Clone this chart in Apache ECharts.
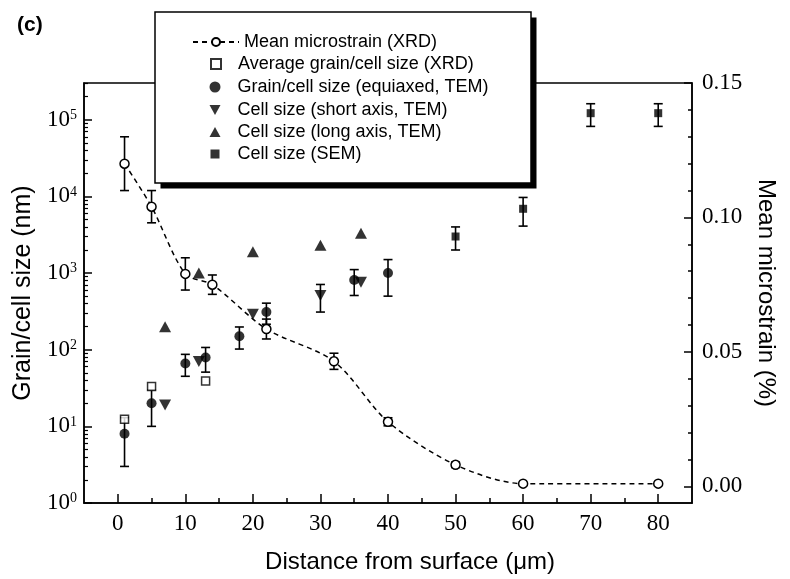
<!DOCTYPE html>
<html><head><meta charset="utf-8">
<script src="https://cdn.jsdelivr.net/npm/echarts@6.0.0/dist/echarts.min.js"></script>
<style>html,body{margin:0;padding:0;background:#fff}#c{width:790px;height:579px}</style>
</head><body><div id="c"></div><script>
// ---- data ----
const msX   = [1, 5, 10, 14, 22, 32, 40, 50, 60, 80];
const msVal = [0.120, 0.104, 0.079, 0.075, 0.0585, 0.0465, 0.024, 0.008, 0.001, 0.001];
const msErr = [0.010, 0.006, 0.006, 0.0036, 0.0037, 0.003, 0.0015, 0.001, 0, 0];

const gsX   = [1, 5, 13];
const gsVal = [12.4, 33, 39];

const eqX   = [1, 5, 10, 13, 18, 22, 35, 40];
const eqVal = [8, 20, 66, 79, 150, 310, 810, 1000];
const eqErr = [5, 10, 21, 28, 48, 95, 300, 500];

const saX   = [7, 12, 20, 30, 36];
const saVal = [19, 70, 290, 510, 760];
const saErr = [0, 0, 0, 200, 0];

const laX   = [7, 12, 20, 30, 36];
const laVal = [200, 1000, 1900, 2300, 3300];

const semX   = [50, 60, 70, 80];
const semVal = [3000, 6900, 122000, 122000];
const semErr = [1000, 2800, 40000, 40000];

const xTickVals      = [0, 10, 20, 30, 40, 50, 60, 70, 80];
const xMinorVals     = [5, 15, 25, 35, 45, 55, 65, 75];
const rightTickVals  = [0, 0.05, 0.10, 0.15];
const rightMinorVals = [0.01, 0.02, 0.03, 0.04, 0.06, 0.07, 0.08, 0.09, 0.11, 0.12, 0.13, 0.14];
const logDecades     = [0, 1, 2, 3, 4, 5];

const names = ['Mean microstrain (XRD)', 'Average grain/cell size (XRD)', 'Grain/cell size (equiaxed, TEM)',
               'Cell size (short axis, TEM)', 'Cell size (long axis, TEM)', 'Cell size (SEM)'];

// ---- helpers ----
const logMax = 5.48;
const logMinorVals = [];
logDecades.forEach(d => { for (let k = 2; k <= 9; k++) { const v = d + Math.log10(k); if (v < logMax) logMinorVals.push(v); } });

const pts = (xs, ys) => xs.map((x, i) => [x, ys[i]]);
const errPts = (xs, ys, es) => xs.map((x, i) => [x, ys[i] - es[i], ys[i] + es[i]]).filter((p, i) => es[i] > 0);

function errRender(params, api) {
  const x = api.value(0), lo = api.value(1), hi = api.value(2);
  const a = api.coord([x, lo]), b = api.coord([x, hi]);
  const w = 4.5;
  const st = { stroke: '#000', lineWidth: 1.6 };
  return { type: 'group', children: [
    { type: 'line', shape: { x1: a[0], y1: a[1], x2: b[0], y2: b[1] }, style: st },
    { type: 'line', shape: { x1: a[0] - w, y1: a[1], x2: a[0] + w, y2: a[1] }, style: st },
    { type: 'line', shape: { x1: b[0] - w, y1: b[1], x2: b[0] + w, y2: b[1] }, style: st }
  ]};
}

const serif = 'Liberation Serif', sans = 'Liberation Sans';
const black = '#000';
const triDown = 'path://M0,0 L10,0 L5,9 Z';
const triUp = 'path://M5,0 L10,9 L0,9 Z';

const chart = echarts.init(document.getElementById('c'), null, { renderer: 'canvas' });

function legendAt(name, left, top, iw, ih, pad) {
  return { data: [name], left: left, top: top, orient: 'vertical', padding: 0, itemWidth: iw, itemHeight: ih,
           itemGap: 0, selectedMode: false, z: 60,
           formatter: pad ? '{p| }{t|' + name + '}' : name,
           textStyle: { fontFamily: sans, fontSize: 18, color: black,
                        rich: { p: { width: pad || 0, fontSize: 18 }, t: { fontFamily: sans, fontSize: 18, color: black } } } };
}

const option = {
  animation: false,
  backgroundColor: '#fff',
  title: { text: '(c)', left: 12, top: 10, textStyle: { fontFamily: sans, fontSize: 21, fontWeight: 'bold', color: black } },
  grid: { left: 84, right: 98, top: 83, bottom: 74, show: true, borderColor: black, borderWidth: 1.5, containLabel: false },
  graphic: [
    { type: 'rect', z: 50, shape: { x: 160.5, y: 17.5, width: 376, height: 171 }, style: { fill: black } },
    { type: 'rect', z: 51, shape: { x: 155, y: 12, width: 376, height: 171 }, style: { fill: '#fff', stroke: black, lineWidth: 1.5 } }
  ],
  legend: [
    legendAt(names[0], 192, 33, 46, 10, 0),
    legendAt(names[1], 210, 55, 10, 10, 12),
    legendAt(names[2], 209.5, 78, 11, 11, 12),
    legendAt(names[3], 209.5, 101, 11, 11, 12),
    legendAt(names[4], 209.5, 123, 11, 11, 12),
    legendAt(names[5], 210.5, 145, 9, 9, 13)
  ],
  xAxis: [
    { type: 'value', min: -5, max: 85, position: 'bottom',
      name: 'Distance from surface (\u03bcm)', nameLocation: 'middle', nameGap: 47,
      nameTextStyle: { fontFamily: sans, fontSize: 24, color: black, padding: [0, 0, 0, 44] },
      axisLine: { show: true, onZero: false, lineStyle: { color: black, width: 1.5 } },
      axisTick: { show: true, inside: true, length: 9, customValues: xTickVals, lineStyle: { color: black, width: 1.5 } },
      axisLabel: { show: true, customValues: xTickVals, margin: 9, fontFamily: serif, fontSize: 23, color: black },
      splitLine: { show: false } },
    { type: 'value', min: -5, max: 85, position: 'bottom',
      axisLine: { show: false, onZero: false },
      axisTick: { show: true, inside: true, length: 5, customValues: xMinorVals, lineStyle: { color: black, width: 1.5 } },
      axisLabel: { show: false }, splitLine: { show: false } }
  ],
  yAxis: [
    { type: 'log', logBase: 10, min: 1, max: Math.pow(10, logMax), position: 'left',
      name: 'Grain/cell size (nm)', nameLocation: 'middle', nameRotate: 90, nameGap: 48,
      nameTextStyle: { fontFamily: sans, fontSize: 25, color: black },
      axisLine: { show: true, onZero: false, lineStyle: { color: black, width: 1.5 } },
      axisTick: { show: true, inside: true, length: 8, lineStyle: { color: black, width: 1.5 } },
      axisLabel: { show: true, margin: 7, showMaxLabel: false,
        formatter: function (v) {
          const l = Math.log10(v), e = Math.round(l);
          if (Math.abs(l - e) > 1e-6) return '';
          return '{b|10}{s|' + e + '}';
        },
        rich: { b: { fontFamily: serif, fontSize: 23, color: black },
                s: { fontFamily: serif, fontSize: 14, color: black, verticalAlign: 'top' } } },
      splitLine: { show: false } },
    { type: 'value', min: 0, max: logMax, position: 'left',
      axisLine: { show: false, onZero: false },
      axisTick: { show: true, inside: true, length: 4, customValues: logMinorVals, lineStyle: { color: black, width: 1.2 } },
      axisLabel: { show: false }, splitLine: { show: false } },
    { type: 'value', min: -0.0062, max: 0.15, position: 'right',
      name: 'Mean microstrain (%)', nameLocation: 'middle', nameRotate: -90, nameGap: 62,
      nameTextStyle: { fontFamily: sans, fontSize: 24, color: black },
      axisLine: { show: true, onZero: false, lineStyle: { color: black, width: 1.5 } },
      axisTick: { show: true, inside: true, length: 8, customValues: rightTickVals, lineStyle: { color: black, width: 1.5 } },
      axisLabel: { show: true, customValues: rightTickVals, margin: 10, fontFamily: serif, fontSize: 23, color: black,
                   formatter: v => v.toFixed(2) },
      splitLine: { show: false } },
    { type: 'value', min: -0.0062, max: 0.15, position: 'right',
      axisLine: { show: false, onZero: false },
      axisTick: { show: true, inside: true, length: 4, customValues: rightMinorVals, lineStyle: { color: black, width: 1.5 } },
      axisLabel: { show: false }, splitLine: { show: false } }
  ],
  series: [
    { type: 'custom', name: 'err-ms', xAxisIndex: 0, yAxisIndex: 2, z: 1, renderItem: errRender, data: errPts(msX, msVal, msErr) },
    { type: 'custom', name: 'err-eq', xAxisIndex: 0, yAxisIndex: 0, z: 1, renderItem: errRender, data: errPts(eqX, eqVal, eqErr) },
    { type: 'custom', name: 'err-sa', xAxisIndex: 0, yAxisIndex: 0, z: 1, renderItem: errRender, data: errPts(saX, saVal, saErr) },
    { type: 'custom', name: 'err-sem', xAxisIndex: 0, yAxisIndex: 0, z: 1, renderItem: errRender, data: errPts(semX, semVal, semErr) },
    { type: 'line', name: names[0], xAxisIndex: 0, yAxisIndex: 2, z: 3, smooth: 0.3,
      data: pts(msX, msVal), symbol: 'circle', symbolSize: 9, showAllSymbol: true,
      lineStyle: { color: black, width: 1.5, type: [5, 4] },
      itemStyle: { color: '#fff', borderColor: black, borderWidth: 1.5 } },
    { type: 'scatter', name: names[1], xAxisIndex: 0, yAxisIndex: 0, z: 3, data: pts(gsX, gsVal),
      symbol: 'rect', symbolSize: 8, itemStyle: { color: '#fff', borderColor: black, borderWidth: 1.5 } },
    { type: 'scatter', name: names[2], xAxisIndex: 0, yAxisIndex: 0, z: 3, data: pts(eqX, eqVal),
      symbol: 'circle', symbolSize: 10, itemStyle: { color: black } },
    { type: 'scatter', name: names[3], xAxisIndex: 0, yAxisIndex: 0, z: 3, data: pts(saX, saVal),
      symbol: triDown, symbolSize: [12, 11], itemStyle: { color: black } },
    { type: 'scatter', name: names[4], xAxisIndex: 0, yAxisIndex: 0, z: 3, data: pts(laX, laVal),
      symbol: triUp, symbolSize: [12, 11], itemStyle: { color: black } },
    { type: 'scatter', name: names[5], xAxisIndex: 0, yAxisIndex: 0, z: 3, data: pts(semX, semVal),
      symbol: 'rect', symbolSize: 8, itemStyle: { color: black } }
  ]
};
chart.setOption(option);
</script></body></html>
